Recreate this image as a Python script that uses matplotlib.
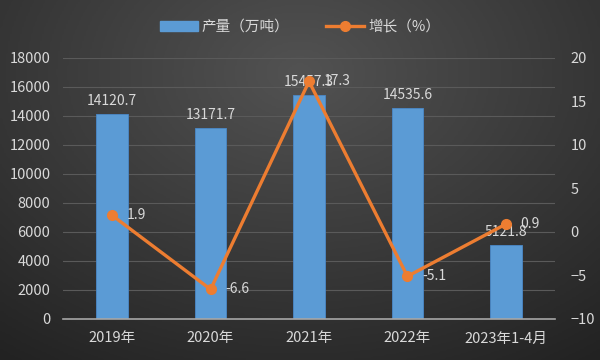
import numpy as np
import matplotlib.pyplot as plt

plt.rcParams['font.family'] = ['Noto Sans CJK SC', 'DejaVu Sans']

categories = ['2019年', '2020年', '2021年', '2022年', '2023年1-4月']
output = [14120.7, 13171.7, 15457.3, 14535.6, 5121.8]
growth = [1.9, -6.6, 17.3, -5.1, 0.9]

txt = '#d9d9d9'
fig = plt.figure(figsize=(6, 3.6), dpi=100)

# 背景渐变
bg = fig.add_axes([0, 0, 1, 1], zorder=-10)
yy, xx = np.mgrid[0:1:200j, 0:1:300j]
r = np.sqrt(((xx - 0.5) / 0.85) ** 2 + ((yy - 0.2) / 1.0) ** 2)
bg.imshow(np.clip(r, 0, 1), cmap=plt.matplotlib.colors.LinearSegmentedColormap.from_list(
    'bg', ['#525252', '#3a3a3a', '#222222']), aspect='auto', extent=[0, 1, 1, 0])
bg.axis('off')

ax = fig.add_axes([0.105, 0.114, 0.82, 0.725])
ax.patch.set_alpha(0)
x = np.arange(len(categories))
bars = ax.bar(x, output, width=0.32, color='#5b9bd5', edgecolor='#4a88c8', linewidth=0.6, zorder=2)
ax.set_ylim(0, 18000)
ax.set_yticks(range(0, 18001, 2000))
ax.set_xlim(-0.5, len(categories) - 0.5)
ax.set_xticks(x)
ax.set_xticklabels(categories)
ax.grid(axis='y', color='#5a5a5a', linewidth=0.8, zorder=0)
for s in ['top', 'left', 'right']:
    ax.spines[s].set_visible(False)
ax.spines['bottom'].set_color('#a6a6a6')
ax.spines['bottom'].set_linewidth(1.2)
ax.tick_params(length=0, colors=txt, labelsize=10.5)
ax.tick_params(axis='y', pad=9)
ax.tick_params(axis='x', pad=9)
for xi, v in zip(x, output):
    ax.text(xi, v + 400, f'{v}', ha='center', va='bottom', color=txt, fontsize=10, zorder=5)

ax2 = ax.twinx()
ax2.plot(x, growth, color='#ed7d31', linewidth=2.4, marker='o', markersize=7, zorder=4)
ax2.set_ylim(-10, 20)
ax2.set_yticks(range(-10, 21, 5))
for s in ['top', 'left', 'right', 'bottom']:
    ax2.spines[s].set_visible(False)
ax2.tick_params(length=0, colors=txt, labelsize=10.5, pad=11)
for xi, v in zip(x, growth):
    ax2.text(xi + 0.15, v, f'{v}', ha='left', va='center', color=txt, fontsize=10, zorder=5)

h1 = plt.Rectangle((0, 0), 1, 1, color='#5b9bd5')
h2, = ax2.plot([], [], color='#ed7d31', linewidth=2.4, marker='o', markersize=7)
fig.legend([h1, h2], ['产量（万吨）', '增长（%）'], loc='center', bbox_to_anchor=(0.5, 0.925),
           ncol=2, frameon=False, labelcolor=txt, fontsize=10.5, handlelength=2.6,
           columnspacing=2.5, handletextpad=0.3)

fig.savefig('out.png', dpi=100)
